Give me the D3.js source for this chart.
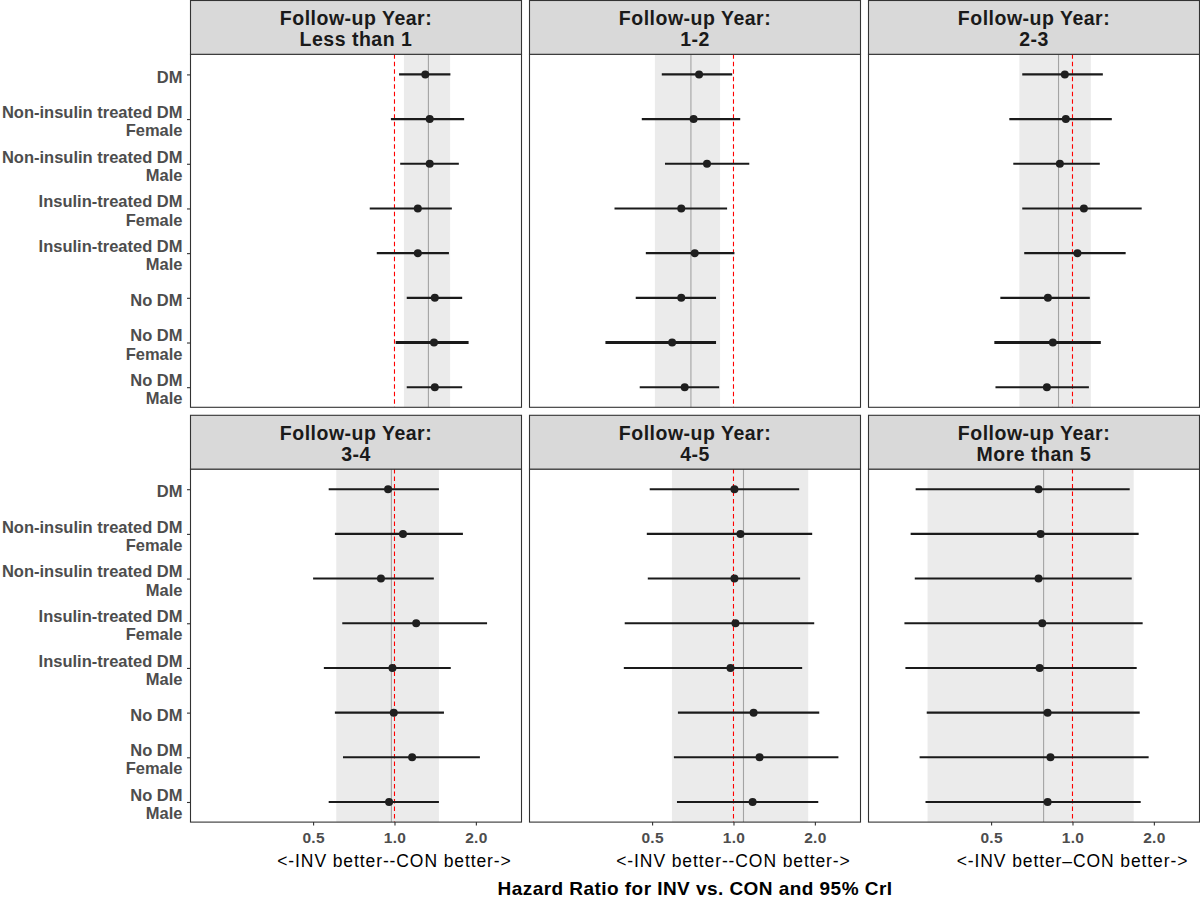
<!DOCTYPE html>
<html><head><meta charset="utf-8">
<script src="https://cdn.jsdelivr.net/npm/d3@7"></script>
<style>
body{margin:0;background:#fff}
svg{display:block}
text{font-family:"Liberation Sans",Arial,Helvetica,sans-serif}
</style>
</head><body>
<svg id="chart" width="1200" height="899"></svg>
<script>
// ---------- data ----------
const facets = ["Less than 1", "1-2", "2-3", "3-4", "4-5", "More than 5"];
const categories = [
  "DM",
  "Non-insulin treated DM\nFemale",
  "Non-insulin treated DM\nMale",
  "Insulin-treated DM\nFemale",
  "Insulin-treated DM\nMale",
  "No DM",
  "No DM\nFemale",
  "No DM\nMale"
];
// hazard ratio point estimates, one array per facet (order of categories)
const hrEst = [
  [1.30, 1.35, 1.35, 1.22, 1.22, 1.41, 1.40, 1.41],
  [0.746, 0.712, 0.798, 0.641, 0.719, 0.641, 0.593, 0.660],
  [0.937, 0.945, 0.898, 1.102, 1.043, 0.811, 0.846, 0.804],
  [0.947, 1.075, 0.891, 1.203, 0.983, 0.994, 1.162, 0.955],
  [1.008, 1.061, 1.008, 1.017, 0.975, 1.187, 1.249, 1.177],
  [0.749, 0.762, 0.749, 0.773, 0.756, 0.809, 0.829, 0.809]
];
const hrLow = [
  [1.04, 0.97, 1.05, 0.81, 0.86, 1.11, 1.01, 1.11],
  [0.543, 0.458, 0.558, 0.363, 0.474, 0.435, 0.336, 0.450],
  [0.652, 0.584, 0.604, 0.652, 0.663, 0.541, 0.514, 0.519],
  [0.571, 0.602, 0.500, 0.641, 0.548, 0.602, 0.645, 0.571],
  [0.490, 0.478, 0.482, 0.396, 0.393, 0.623, 0.602, 0.618],
  [0.263, 0.252, 0.261, 0.239, 0.241, 0.289, 0.272, 0.286]
];
const hrHigh = [
  [1.61, 1.81, 1.73, 1.63, 1.59, 1.78, 1.88, 1.78],
  [0.989, 1.059, 1.144, 0.947, 1.008, 0.862, 0.862, 0.885],
  [1.295, 1.398, 1.262, 1.803, 1.573, 1.159, 1.273, 1.150],
  [1.46, 1.791, 1.398, 2.20, 1.615, 1.524, 2.07, 1.46],
  [1.75, 1.955, 1.764, 1.989, 1.795, 2.076, 2.444, 2.059],
  [1.628, 1.757, 1.656, 1.818, 1.728, 1.773, 1.913, 1.788]
];
// pooled estimate and its credible interval per facet
const pooledEst  = [1.335, 0.696, 0.888, 0.974, 1.089, 0.782];
const pooledLow  = [1.084, 0.512, 0.636, 0.609, 0.592, 0.291];
const pooledHigh = [1.606, 0.892, 1.169, 1.46, 1.89, 1.684];
const nullValue = 1.0;
const xDomain = [0.176, 2.95];
const tickValues = [0.5, 1.0, 2.0];
const tickLabels = ["0.5", "1.0", "2.0"];
const axisNotes = ["<-INV better--CON better->", "<-INV better--CON better->", "<-INV better\u2013CON better->"];
const stripTitle = "Follow-up Year:";
const xTitle = "Hazard Ratio for INV vs. CON and 95% CrI";

// ---------- layout ----------
const svg = d3.select("#chart");
const panelLeft = [190.5, 529.5, 868.5];
const rowTop = [0.5, 415.3];
const panelW = 331, stripH = 53.8, panelH = 353;

const x = d3.scaleLog().domain(xDomain).range([0, panelW]);
const y = d3.scalePoint().domain(categories).range([0, panelH]).padding(0.45);

facets.forEach((f, i) => {
  const col = i % 3, row = Math.floor(i / 3);
  const gx = panelLeft[col], sy = rowTop[row], py = sy + stripH;
  const g = svg.append("g").attr("transform", `translate(${gx},${py})`);

  g.append("rect").attr("width", panelW).attr("height", panelH).attr("fill", "#fff");
  // pooled band
  g.append("rect")
    .attr("x", x(pooledLow[i])).attr("y", 0)
    .attr("width", x(pooledHigh[i]) - x(pooledLow[i])).attr("height", panelH)
    .attr("fill", "#ebebeb");
  // pooled line
  g.append("line")
    .attr("x1", x(pooledEst[i])).attr("x2", x(pooledEst[i]))
    .attr("y1", 0).attr("y2", panelH)
    .attr("stroke", "#a3a3a3").attr("stroke-width", 1.1);
  // null line
  g.append("line")
    .attr("x1", x(nullValue)).attr("x2", x(nullValue))
    .attr("y1", 0).attr("y2", panelH)
    .attr("stroke", "#ff0000").attr("stroke-width", 1.1)
    .attr("stroke-dasharray", "4.5,3");

  const rows = categories.map((c, k) => ({c, est: hrEst[i][k], lo: hrLow[i][k], hi: hrHigh[i][k]}));
  g.selectAll("line.ci").data(rows).join("line")
    .attr("class", "ci")
    .attr("x1", d => x(d.lo)).attr("x2", d => x(d.hi))
    .attr("y1", d => y(d.c)).attr("y2", d => y(d.c))
    .attr("stroke", "#1a1a1a")
    .attr("stroke-width", (d, k) => (row === 0 && k === 6) ? 2.8 : 2.1);
  g.selectAll("circle.pt").data(rows).join("circle")
    .attr("class", "pt")
    .attr("cx", d => x(d.est)).attr("cy", d => y(d.c))
    .attr("r", 4).attr("fill", "#1f1f1f");

  g.append("rect").attr("width", panelW).attr("height", panelH)
    .attr("fill", "none").attr("stroke", "#333333").attr("stroke-width", 1.1);

  // strip
  const s = svg.append("g").attr("transform", `translate(${gx},${sy})`);
  s.append("rect").attr("width", panelW).attr("height", stripH)
    .attr("fill", "#d9d9d9").attr("stroke", "#333333").attr("stroke-width", 1.1);
  const st = s.append("text").attr("text-anchor", "middle")
    .attr("font-size", 19.5).attr("font-weight", "bold").attr("fill", "#1a1a1a")
    .style("letter-spacing", "0.5px");
  st.append("tspan").attr("x", panelW / 2).attr("y", 24.8).text(stripTitle);
  st.append("tspan").attr("x", panelW / 2).attr("y", 45.4).text(f);

  // y axis on left column
  if (col === 0) {
    const ay = g.append("g").call(d3.axisLeft(y).tickSize(3.5).tickFormat(""));
    ay.select(".domain").remove();
    ay.selectAll(".tick line").attr("stroke", "#333333").attr("stroke-width", 1.1);
    ay.selectAll(".tick").each(function(d) {
      const parts = d.split("\n");
      const t = d3.select(this).append("text")
        .attr("text-anchor", "end").attr("fill", "#4d4d4d")
        .attr("font-size", 16.5).attr("font-weight", "bold");
      parts.forEach((p, j) => {
        t.append("tspan").attr("x", -8)
          .attr("y", parts.length === 1 ? 7.7 : (j === 0 ? -1.7 : 16.7))
          .text(p);
      });
    });
  }
  // x axis on bottom row
  if (row === 1) {
    const ax = g.append("g").attr("transform", `translate(0,${panelH})`)
      .call(d3.axisBottom(x).tickValues(tickValues).tickFormat((d, k) => tickLabels[k]).tickSize(3.5).tickPadding(2));
    ax.select(".domain").remove();
    ax.selectAll(".tick line").attr("stroke", "#333333").attr("stroke-width", 1.1);
    ax.selectAll(".tick text")
      .attr("font-size", 15.5).attr("font-weight", "bold").attr("fill", "#4d4d4d")
      .attr("font-family", "'Liberation Sans',Arial,sans-serif")
      .attr("dy", null).attr("y", 21).style("letter-spacing", "0.3px");
    g.append("text")
      .attr("x", x(nullValue)).attr("y", panelH + 44.5)
      .attr("text-anchor", "middle").attr("font-size", 17.5).attr("fill", "#000")
      .style("letter-spacing", "0.9px")
      .text(axisNotes[col]);
  }
});

svg.append("text")
  .attr("x", (panelLeft[0] + panelLeft[2] + panelW) / 2).attr("y", 895)
  .attr("text-anchor", "middle").attr("font-size", 19).attr("font-weight", "bold")
  .attr("fill", "#000").style("letter-spacing", "0.45px")
  .text(xTitle);
</script>
</body></html>
